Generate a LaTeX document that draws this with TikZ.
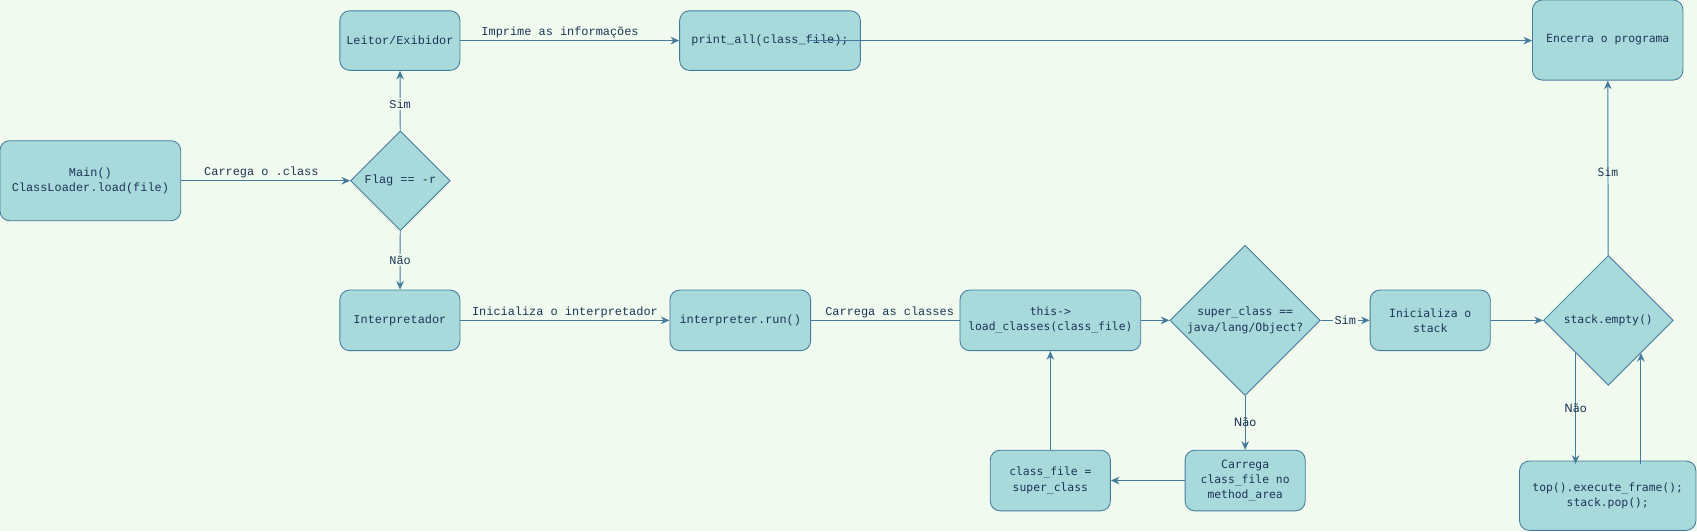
\documentclass[tikz,border=0pt]{standalone}
\usepackage{fontspec}
\newfontfamily\monoA{Liberation Mono}
\newfontfamily\monoB{DejaVu Sans Mono}
\newfontfamily\sansB{DejaVu Sans}
\usetikzlibrary{shapes.geometric,arrows.meta}
\definecolor{bgc}{HTML}{F1FAEE}
\definecolor{boxfill}{HTML}{A8DADC}
\definecolor{boxline}{HTML}{457B9D}
\definecolor{txt}{HTML}{1D3557}
\tikzset{
  box/.style={rectangle, rounded corners=9pt, draw=boxline, fill=boxfill, text=txt,
    inner sep=0pt, align=center, line width=0.8pt},
  dia/.style={diamond, aspect=1, draw=boxline, fill=boxfill, text=txt,
    inner sep=0pt, align=center, line width=0.8pt},
  fa/.style={font=\monoA\fontsize{11}{14}\selectfont},
  fb/.style={font=\monoB\fontsize{10.5}{14}\selectfont},
  edge/.style={draw=boxline, line width=0.9pt, -{Stealth[length=8pt,width=7pt]}},
  plain/.style={draw=boxline, line width=0.9pt},
  lbl/.style={text=txt, inner sep=1pt},
  lblbg/.style={text=txt, inner sep=1.5pt, fill=bgc},
}
\begin{document}
\begin{tikzpicture}[x=1pt,y=-1pt]
\fill[bgc] (0,0) rectangle (1568,491);
\useasboundingbox (0,0) rectangle (1568,491);

\node[box,fa,minimum width=167pt,minimum height=74pt] (main) at (83.5,167) {Main()\\ClassLoader.load(file)};
\node[dia,fa,minimum width=92pt,minimum height=92pt] (flag) at (370,167) {Flag == -r};
\node[box,fa,minimum width=111pt,minimum height=55pt] (leitor) at (369.5,37.5) {Leitor/Exibidor};
\node[box,fa,minimum width=167pt,minimum height=55pt] (pa) at (711.5,37.5) {print\_all(class\_file);};
\node[box,fb,minimum width=139pt,minimum height=74pt] (enc) at (1485.5,37) {Encerra o programa};
\node[box,fa,minimum width=111pt,minimum height=56pt] (interp) at (369.5,296) {Interpretador};
\node[box,fa,minimum width=130pt,minimum height=56pt] (run) at (684,296) {interpreter.run()};
\node[box,fb,minimum width=167pt,minimum height=56pt] (load) at (970.5,296) {this->\\load\_classes(class\_file)};
\node[dia,fb,minimum width=139pt,minimum height=139pt] (sup) at (1150.5,296) {super\_class ==\\java/lang/Object?};
\node[box,fb,minimum width=111pt,minimum height=56pt] (init) at (1321.5,296) {Inicializa o\\stack};
\node[dia,fb,minimum width=120pt,minimum height=120pt] (se) at (1486,296) {stack.empty()};
\node[box,fb,minimum width=163pt,minimum height=64pt] (top) at (1485.5,458) {top().execute\_frame();\\stack.pop();};
\node[box,fb,minimum width=111pt,minimum height=56pt] (cf) at (970.5,444) {class\_file =\\super\_class};
\node[box,fb,minimum width=111pt,minimum height=56pt] (car) at (1150.5,444) {Carrega\\class\_file no\\method\_area};

% edges
\draw[edge] (main) -- node[lbl,fa,above=1pt,xshift=-4pt] {Carrega o .class} (flag);
\draw[edge] (flag) -- node[lblbg,fa,pos=0.45] {Sim} (leitor);
\draw[edge] (flag) -- node[lblbg,fa,pos=0.5] {Não} (interp);
\draw[edge] (leitor) -- node[lbl,fa,above=1pt,xshift=-9pt] {Imprime as informações} (pa);
\draw[edge] ([xshift=34pt]pa.center) -- (enc.west |- pa.center);
\draw[edge] (interp) -- node[lbl,fa,above=1pt] {Inicializa o interpretador} (run);
\draw[plain] (run) -- node[lbl,fa,above=1pt,xshift=4pt] {Carrega as classes} (load);
\draw[edge] (load) -- (sup);
\draw[edge] (sup) -- node[lblbg,fa,pos=0.5] {Sim} (init);
\draw[edge] (sup) -- node[lbl,font=\sansB\fontsize{10.5}{13}\selectfont,pos=0.48] {Não} (car);
\draw[edge] (car) -- (cf);
\draw[edge] (cf) -- (load);
\draw[edge] (init) -- (se);
\draw[edge] (se) -- node[lbl,fb,pos=0.475] {Sim} (enc);
\draw[edge] (se.south west) -- node[lbl,font=\sansB\fontsize{10.5}{13}\selectfont,pos=0.5] {Não} ([yshift=-3pt]se.south west |- top.north);
\draw[edge] ([yshift=-3pt]se.south east |- top.north) -- (se.south east);
\end{tikzpicture}
\end{document}
